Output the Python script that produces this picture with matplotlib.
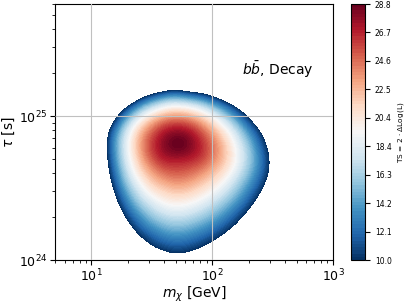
import numpy as np
import matplotlib
matplotlib.use("Agg")
import matplotlib.pyplot as plt
import matplotlib.tri as mtri

# grid of the TS scan
mass = [10, 12.5, 16, 20, 25, 32, 40, 50, 63, 80, 100, 125, 160, 200, 250, 320, 400]  # GeV
tau = [0.8e24, 1.0e24, 1.25e24, 1.6e24, 2.0e24, 2.5e24, 3.2e24, 4.0e24, 5.0e24,
       6.3e24, 8.0e24, 1.0e25, 1.25e25, 1.6e25, 2.0e25]  # s

# TS values, one row per tau, one column per mass
ts = [
    [-9.9, -7.0, -3.0, -0.1, 2.2, 4.0, 5.1, 5.5, 5.3, 4.4, 3.3, 1.8, -0.1, -2.1, -4.4, -7.3, -9.9],
    [-9.2, -4.6, -0.4, 2.7, 5.1, 6.9, 8.0, 8.5, 8.2, 7.4, 6.2, 4.7, 2.7, 0.7, -1.7, -4.6, -7.5],
    [-7.1, -2.3, 2.1, 5.3, 7.8, 9.8, 10.9, 11.4, 11.1, 10.2, 9.0, 7.5, 5.5, 3.4, 1.0, -2.0, -5.0],
    [-5.0, 0.1, 4.8, 8.1, 10.8, 12.8, 14.0, 14.5, 14.2, 13.3, 12.1, 10.5, 8.5, 6.3, 3.8, 0.7, -2.4],
    [-3.3, 2.1, 7.0, 10.6, 13.3, 15.5, 16.7, 17.2, 16.9, 16.0, 14.8, 13.2, 11.0, 8.7, 6.2, 3.0, -0.2],
    [-1.8, 3.9, 9.1, 12.9, 15.8, 18.0, 19.3, 19.8, 19.5, 18.6, 17.3, 15.7, 13.5, 11.1, 8.4, 5.1, 1.8],
    [-0.5, 5.5, 11.1, 15.2, 18.3, 20.8, 22.0, 22.6, 22.3, 21.3, 20.0, 18.3, 15.9, 13.4, 10.6, 7.1, 3.6],
    [0.5, 6.7, 12.6, 17.0, 20.4, 23.0, 24.4, 24.9, 24.6, 23.6, 22.2, 20.4, 17.8, 15.1, 12.1, 8.4, 4.7],
    [1.1, 7.5, 13.7, 18.3, 22.0, 25.0, 26.6, 27.0, 26.7, 25.7, 24.0, 21.9, 19.0, 16.0, 12.7, 8.6, 4.7],
    [1.3, 7.8, 14.1, 18.8, 22.7, 25.9, 27.8, 28.7, 28.2, 26.5, 24.4, 21.9, 18.6, 15.4, 11.8, 7.6, 3.5],
    [0.0, 6.6, 12.8, 17.5, 21.4, 24.5, 26.4, 27.2, 26.7, 24.9, 22.6, 19.9, 16.5, 13.1, 9.5, 5.1, 0.9],
    [-3.5, 3.0, 9.2, 13.8, 17.6, 20.7, 22.5, 23.2, 22.7, 21.1, 18.9, 16.2, 12.8, 9.4, 5.7, 1.3, -2.9],
    [-9.4, -2.9, 3.2, 7.7, 11.4, 14.4, 16.2, 16.9, 16.3, 15.0, 13.0, 10.5, 7.3, 4.0, 0.3, -4.0, -8.2],
    [-9.9, -9.9, -6.1, -1.6, 2.0, 4.9, 6.6, 7.4, 6.4, 5.4, 3.8, 1.6, -1.3, -4.4, -7.8, -9.9, -9.9],
    [-9.9, -9.9, -9.9, -9.9, -8.8, -5.9, -4.3, -3.5, -4.8, -5.6, -7.0, -8.8, -9.9, -9.9, -9.9, -9.9, -9.9],
]

ts_min, ts_max = 10.0, 28.8
cbar_ticks = np.linspace(ts_min, ts_max, 10)

fig = plt.figure(figsize=(4.07, 3.05), dpi=100)
ax = fig.add_axes([55/407, 45/305, 278/407, 256/305])

# smooth the scan in log space, then put it back on the log axes
X, Y = np.meshgrid(np.log10(mass), np.log10(tau))
tri = mtri.Triangulation(X.ravel(), Y.ravel())
tri_f, ts_f = mtri.UniformTriRefiner(tri).refine_field(np.ravel(ts), subdiv=4)
ts_f = np.minimum(ts_f, ts_max)
tri_f = mtri.Triangulation(10 ** tri_f.x, 10 ** tri_f.y, tri_f.triangles)

cf = ax.tricontourf(tri_f, ts_f, levels=np.linspace(ts_min, ts_max, 80), cmap="RdBu_r")

ax.set_xscale("log")
ax.set_yscale("log")
ax.set_xlim(5, 1000)
ax.set_ylim(1e24, 6e25)
ax.grid(True, color="#c0c0c0", zorder=5)
ax.set_axisbelow(False)
ax.tick_params(labelsize=9, pad=2)
ax.set_xlabel(r"$m_\chi$ [GeV]", fontsize=10, labelpad=0)
ax.set_ylabel(r"$\tau$ [s]", fontsize=10, labelpad=1)
ax.text(0.802, 0.745, r"$b\bar{b}$, Decay", transform=ax.transAxes,
        ha="center", va="center", fontsize=10)

cax = fig.add_axes([351/407, 45/305, 14/407, 256/305])
cb = fig.colorbar(cf, cax=cax, ticks=cbar_ticks, format="%.1f")
cb.ax.tick_params(labelsize=5.5)
cb.set_label(r"TS = 2 $\cdot$ $\Delta$Log(L)", fontsize=5.3, labelpad=3)

fig.savefig("out.png")
